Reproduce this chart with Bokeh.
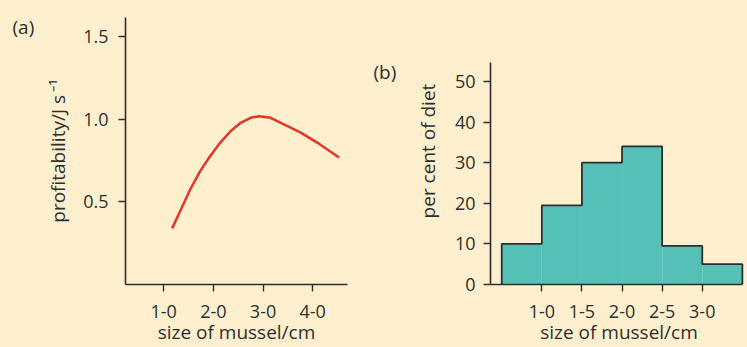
from bokeh.plotting import figure
from bokeh.layouts import row
from bokeh.models import FixedTicker, Title, GlobalInlineStyleSheet
from bokeh.embed import file_html
from bokeh.resources import INLINE

BG = "#FEF0CE"
INK = "#2E2E2E"
FONT = "Open Sans"
RED = "#E5352B"
TEAL = "#55C1B6"

# ---- Panel (a): profitability vs mussel size ----
size_a = [1.17, 1.34, 1.54, 1.74, 1.94, 2.14, 2.35, 2.55, 2.75, 2.92, 3.15, 3.42, 3.76, 4.09, 4.53]
profit_a = [0.34, 0.45, 0.58, 0.69, 0.78, 0.86, 0.93, 0.98, 1.01, 1.02, 1.01, 0.97, 0.92, 0.86, 0.77]
xa_ticks = [1, 2, 3, 4]
xa_labels = ["1-0", "2-0", "3-0", "4-0"]
ya_ticks = [0.5, 1.0, 1.5]
ya_labels = ["0.5", "1.0", "1.5"]

# ---- Panel (b): per cent of diet by mussel size ----
bin_left = [0.5, 1.0, 1.5, 2.0, 2.5, 3.0]
bin_right = [1.0, 1.5, 2.0, 2.5, 3.0, 3.5]
percent_b = [10, 19.5, 30, 34, 9.5, 5]
xb_ticks = [1.0, 1.5, 2.0, 2.5, 3.0]
xb_labels = ["1-0", "1-5", "2-0", "2-5", "3-0"]
yb_ticks = [0, 10, 20, 30, 40, 50]
yb_labels = ["0", "10", "20", "30", "40", "50"]


def style(p, xt, xl, yt, yl, xs1, xs2, ys1, ys2):
    p.xgrid.visible = False
    p.ygrid.visible = False
    p.outline_line_color = None
    p.background_fill_color = BG
    p.border_fill_color = BG
    p.xaxis.ticker = FixedTicker(ticks=xt)
    p.yaxis.ticker = FixedTicker(ticks=yt)
    p.xaxis.major_label_overrides = dict(zip(xt, xl))
    p.yaxis.major_label_overrides = dict(zip(yt, yl))
    for ax, s1, s2 in ((p.xaxis, xs1, xs2), (p.yaxis, ys1, ys2)):
        ax.axis_line_color = INK
        ax.axis_line_width = 1.6
        ax.major_tick_line_color = INK
        ax.major_tick_line_width = 1.4
        ax.major_tick_in = 0
        ax.major_tick_out = 7
        ax.minor_tick_line_color = None
        ax.major_label_text_font = FONT
        ax.major_label_text_font_size = "18px"
        ax.major_label_text_color = INK
        ax.major_label_standoff = s1
        ax.axis_label_text_font = FONT
        ax.axis_label_text_font_size = "19px"
        ax.axis_label_text_font_style = "normal"
        ax.axis_label_text_color = INK
        ax.axis_label_standoff = s2


def panel_tag(p, text, offset, standoff):
    p.add_layout(Title(text=text, align="left", offset=offset, standoff=standoff,
                       text_font=FONT, text_font_size="19px", text_font_style="normal",
                       text_color=INK), "above")


pa = figure(width=362, height=347, x_range=(0.231, 4.70), y_range=(0, 1.618),
            output_backend="svg", toolbar_location=None,
            min_border_left=125, min_border_right=15, min_border_top=17, min_border_bottom=63,
            x_axis_label="size of mussel/cm", y_axis_label="profitability/J s\u2009\u207b\u00b9")
style(pa, xa_ticks, xa_labels, ya_ticks, ya_labels, 13, -2, 10, 9)
pa.line(size_a, profit_a, line_color=RED, line_width=2.5)
panel_tag(pa, "(a)", -113, -45)

pb = figure(width=385, height=347, x_range=(0.36, 3.564), y_range=(0, 65.76),
            output_backend="svg", toolbar_location=None,
            min_border_left=128, min_border_right=0, min_border_top=17, min_border_bottom=63,
            x_axis_label="size of mussel/cm", y_axis_label="per cent of diet")
style(pb, xb_ticks, xb_labels, yb_ticks, yb_labels, 13, -2, 8, 11)
pb.yaxis.bounds = (0, 54.7)
pb.xaxis.bounds = (0.36, 3.5)
pb.quad(left=bin_left, right=bin_right, bottom=0, top=percent_b,
        fill_color=TEAL, line_color=None)
step_x = [bin_left[0]]
step_y = [0]
for l, r, h in zip(bin_left, bin_right, percent_b):
    step_x += [l, r]
    step_y += [h, h]
step_x.append(bin_right[-1])
step_y.append(0)
pb.line(step_x, step_y, line_color=INK, line_width=1.8)
panel_tag(pb, "(b)", -117, -134)

layout = row(pa, pb, stylesheets=[GlobalInlineStyleSheet(css="html, body { background-color: #FEF0CE; }")])

open("out.html", "w").write(file_html(layout, INLINE))
